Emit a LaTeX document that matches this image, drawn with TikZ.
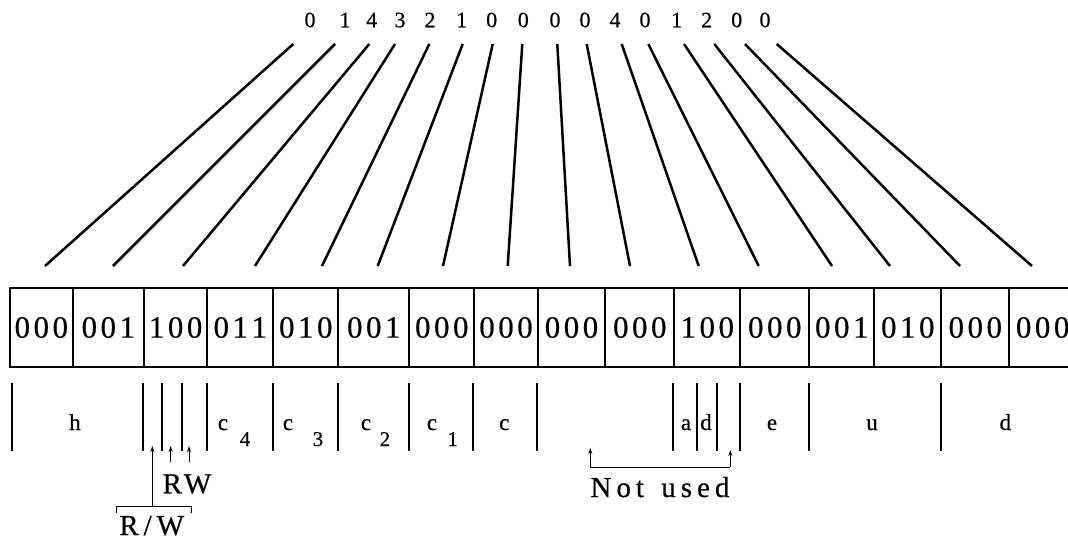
\documentclass[tikz,border=0pt]{standalone}
\usepackage{fontspec}
\setmainfont{Liberation Serif}[FakeBold=0.5]
\usetikzlibrary{arrows.meta}
\newcommand\tribit[3]{#1\kern3.5pt#2\kern3.5pt#3}
\begin{document}
\begin{tikzpicture}[x=1pt,y=-1pt,
  topdigit/.style={font=\fontsize{22}{22}\selectfont, inner sep=0pt},
  cell/.style={draw, line width=1.8pt, font=\fontsize{31}{31}\selectfont, inner sep=0pt, minimum height=79pt},
  lab/.style={font=\fontsize{23}{23}\selectfont, anchor=base, inner sep=0pt},
  subdigit/.style={font=\fontsize{21}{21}\selectfont, anchor=base, inner sep=0pt},
  biglab/.style={font=\fontsize{29}{29}\selectfont, anchor=base, inner sep=0pt},
  fan/.style={line width=2.5pt},
  bar/.style={line width=2.2pt},
  arr/.style={line width=0.9pt, -{Stealth[length=6pt,width=4pt]}},
  thinline/.style={line width=0.9pt}]
\useasboundingbox (0,0) rectangle (1068,541);
\clip (0,0) rectangle (1068,541);

% octal digits along the top
\foreach \d/\x [count=\i] in {0/310,1/345,4/371.7,3/400,2/430,1/461.7,0/491.7,0/523.3,
    0/555,0/585,4/615,0/645,1/676.7,2/706.7,0/736.7,0/765}
  \node[topdigit] (t\i) at (\x,20) {\d};

% fan of lines from the digits down to the register
\foreach \i/\xa/\xb in {1/293.3/45, 2/335/113, 3/369.3/183, 4/395/255, 5/429.3/322,
    6/462.7/377.7, 7/492.7/443, 8/522.3/507.7, 9/557.3/570, 10/586.7/630,
    11/621.7/698.7, 12/648.3/758.7, 13/684/832, 14/714.3/890, 15/745/960, 16/776.7/1032}
{
  \coordinate (fa\i) at (\xa,44);
  \coordinate (fb\i) at (\xb,266);
  \draw[fan] (fa\i) -- (fb\i);
}

% register cells with their binary contents
\foreach \l/\r/\a/\b/\c [count=\i] in {10/72.7/0/0/0, 72.7/144/0/0/1, 144/207.3/1/0/0,
    207.3/273.3/0/1/1, 273.3/338.3/0/1/0, 338.3/409.3/0/0/1, 409.3/474.3/0/0/0,
    474.3/537.7/0/0/0, 537.7/605.3/0/0/0, 605.3/674.3/0/0/0, 674.3/740.3/1/0/0,
    740.3/809.3/0/0/0, 809.3/874.3/0/0/1, 874.3/941.3/0/1/0, 941.3/1009.3/0/0/0,
    1009.3/1076/0/0/0}
  \node[cell, minimum width={\r pt-\l pt}] (b\i) at ({(\l+\r)/2},327.5) {\tribit\a\b\c};

% field separators below the register
\foreach \x [count=\i] in {11.7,143.3,162.3,181.7,206.7,273.3,338.3,409.3,473.3,537,
    673.3,696.7,717,740.3,809.3,941.3}
{
  \coordinate (sa\i) at (\x,383);
  \coordinate (sb\i) at (\x,451);
  \draw[bar] (sa\i) -- (sb\i);
}

% field names
\node[lab] (lh) at (75,430) {h};
\node[lab] (lc4) at (223,430) {c};
\node[subdigit] (lc4s) at (245,446) {4};
\node[lab] (lc3) at (288,430) {c};
\node[subdigit] (lc3s) at (318,446) {3};
\node[lab] (lc2) at (366,430) {c};
\node[subdigit] (lc2s) at (385,446) {2};
\node[lab] (lc1) at (432,430) {c};
\node[subdigit] (lc1s) at (452.7,446) {1};
\node[lab] (lc) at (504.3,430) {c};
\node[lab] (la) at (686,430) {a};
\node[lab] (ld) at (706,430) {d};
\node[lab] (le) at (772,430) {e};
\node[lab] (lu) at (872,430) {u};
\node[lab] (ldd) at (1005.3,430) {d};

% read/write bits
\coordinate (rwfoot) at (152.3,506.7);
\coordinate (rwtip) at (152.3,446);
\coordinate (rwl) at (116.7,506.7);
\coordinate (rwr) at (191.7,506.7);
\draw[arr] (rwfoot) -- (rwtip);
\draw[thinline] ([yshift=-6pt]rwl) -- (rwl) -- (rwr) -- ([yshift=-6pt]rwr);
\coordinate (rfoot) at (170.7,462);
\coordinate (rtip) at (170.7,446);
\coordinate (wfoot) at (189,462);
\coordinate (wtip) at (189,446);
\draw[arr] (rfoot) -- (rtip);
\draw[arr] (wfoot) -- (wtip);
\node[biglab] (lrw) at (187,493.3) {R\kern2pt W};
\node[biglab] (lrsw) at (151.7,535) {R\kern5pt/\kern5pt W};

% unused bits
\coordinate (nu1) at (590.3,467);
\coordinate (nu1t) at (590.3,448);
\coordinate (nu2) at (730.3,467);
\coordinate (nu2t) at (730.3,450);
\draw[arr] (nu1) -- (nu1t);
\draw[arr] (nu2) -- (nu2t);
\draw[thinline] (nu1) -- (nu2);
\node[biglab] (lnu) at (660,497) {N\kern5pt o\kern5pt t\kern5pt\ \kern5pt u\kern5pt s\kern5pt e\kern5pt d};
\end{tikzpicture}
\end{document}
